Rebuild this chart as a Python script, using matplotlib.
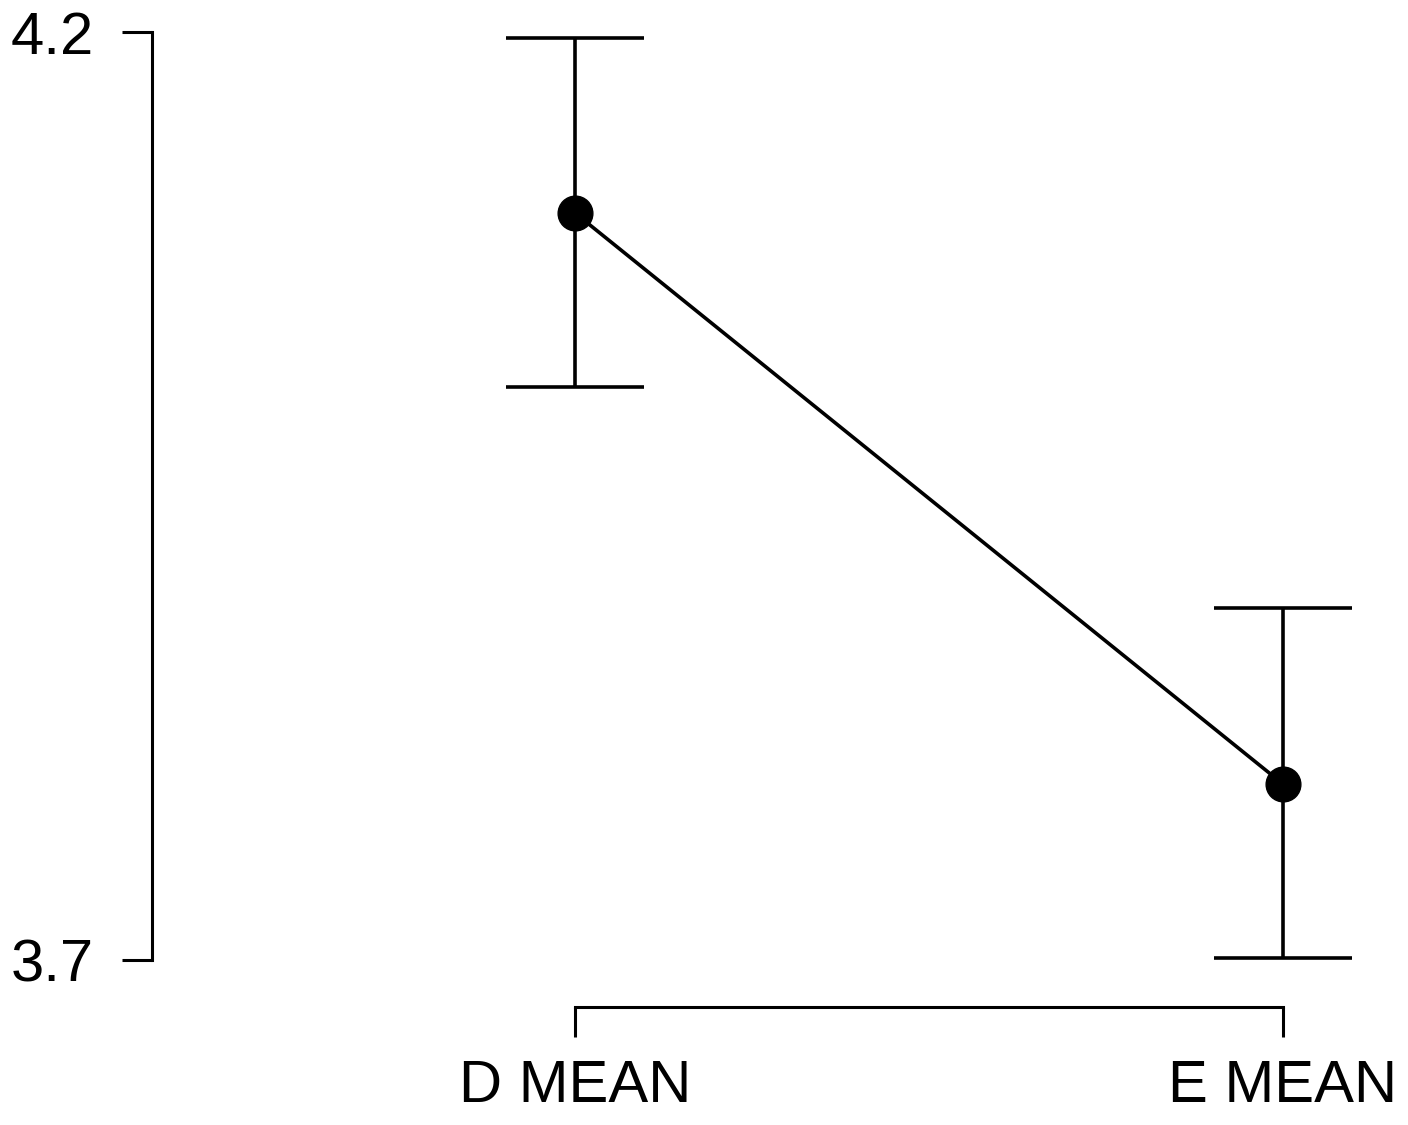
import matplotlib
matplotlib.use("Agg")
import matplotlib.pyplot as plt

categories = ["D MEAN", "E MEAN"]
means = [4.1025, 3.7948]
upper = [4.1968, 3.8897]
lower = [4.0087, 3.7011]
y_ticks = [3.7, 4.2]
y_labels = ["3.7", "4.2"]

plt.rcParams["font.family"] = ["Liberation Sans", "DejaVu Sans"]

W, H = 1408, 1125
fig = plt.figure(figsize=(W / 100, H / 100), dpi=100)
# axes box in pixel coordinates: left 152, right 1400, top 32, bottom 960
ax = fig.add_axes([152 / W, 1 - 960 / H, (1400 - 152) / W, (960 - 32) / H])

x = [1, 2]
yerr = [[m - lo for m, lo in zip(means, lower)], [up - m for m, up in zip(means, upper)]]
ax.errorbar(x, means, yerr=yerr, fmt="none", ecolor="black", elinewidth=2.6,
            capsize=50, capthick=2.6, zorder=2)
ax.plot(x, means, color="black", lw=2.6, marker="o", markersize=25, zorder=3)

ax.set_xlim(0.4025, 2.1653)
ax.set_ylim(3.7, 4.2)

for s in ["top", "right"]:
    ax.spines[s].set_visible(False)
ax.spines["left"].set_bounds(3.7, 4.2)
ax.spines["bottom"].set_bounds(1, 2)
ax.spines["bottom"].set_position(("outward", 47 * 0.72))
for s in ["left", "bottom"]:
    ax.spines[s].set_linewidth(2.2)

ax.set_yticks(y_ticks)
ax.set_yticklabels(y_labels)
ax.set_xticks(x)
ax.set_xticklabels(categories)
ax.tick_params(axis="both", direction="out", length=30 * 0.72, width=2.2,
               labelsize=43)
ax.tick_params(axis="y", pad=20)
ax.tick_params(axis="x", pad=16)
ax.set_facecolor("white")

fig.savefig("out.png", dpi=100, facecolor="white")
